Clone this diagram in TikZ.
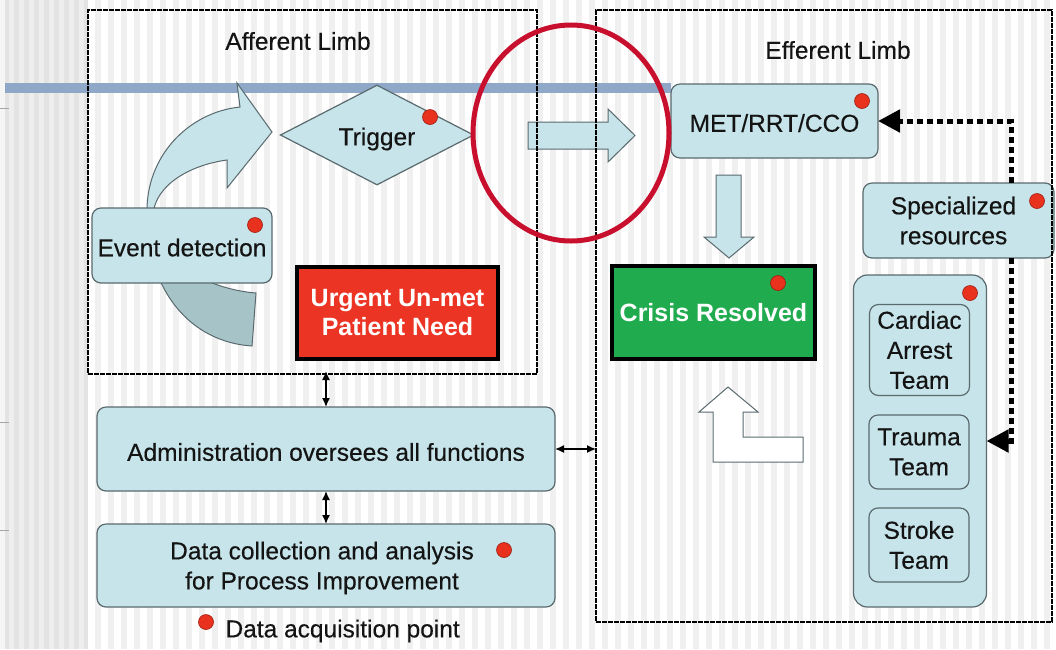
\documentclass[tikz,border=0pt]{standalone}
\usepackage{fontspec}
\setmainfont{Liberation Sans}
\newfontfamily\slidefont{Liberation Sans}[FakeBold=0.35]
\usetikzlibrary{arrows.meta,shapes.geometric}

\definecolor{boxblue}{HTML}{C6E4E9}
\definecolor{boxline}{HTML}{5A6A6E}
\definecolor{arcdark}{HTML}{A6C3C8}
\definecolor{dotred}{HTML}{E8321E}
\definecolor{dotrim}{HTML}{A01A10}
\definecolor{needred}{HTML}{EC3424}
\definecolor{okgreen}{HTML}{20AB4E}
\definecolor{ringred}{HTML}{C8102E}
\definecolor{bandblue}{HTML}{8FA8C8}
\definecolor{stripegray}{HTML}{F0F0F0}
\definecolor{sidegray}{HTML}{E3E3E3}
\definecolor{sidelight}{HTML}{EEEEEE}
\definecolor{inktext}{HTML}{141414}

% lower a label without changing the box size seen by the node
\newcommand{\lowered}[2]{\raisebox{-#1}[\height][\depth]{#2}}

\tikzset{
  txt/.style={font=\slidefont\fontsize{24.5}{30}\selectfont, text=inktext, align=center},
  pbox/.style={txt, draw=boxline, fill=boxblue, line width=1.2pt,
               rounded corners=9pt, inner sep=0pt, outer sep=0pt},
  statebox/.style={font=\bfseries\fontsize{25}{29}\selectfont, text=white,
               align=center, draw=black, line width=4pt, inner sep=0pt, outer sep=0pt},
  limbframe/.style={draw=black, line width=2.2pt, dash pattern=on 5pt off 1pt,
               inner sep=0pt, outer sep=0pt},
  blockarrow/.style={fill=boxblue, draw=boxline, line width=1pt, line join=miter},
  apoint/.style={circle, fill=dotred, draw=dotrim, line width=0.6pt,
               minimum size=15pt, inner sep=0pt},
  resconn/.style={line width=5pt, dash pattern=on 6pt off 4pt,
               -{Triangle[length=22pt,width=22pt]}},
  twoway/.style={line width=1.4pt,
               {Latex[length=9pt,width=8pt]}-{Latex[length=9pt,width=8pt]}},
}

\begin{document}
\begin{tikzpicture}[x=1pt,y=-1pt]
\useasboundingbox (0,0) rectangle (1056,649);

% striped slide background
\fill[stripegray] (0,0) rectangle (1056,649);
\foreach \x in {88,101,...,1056} \fill[white] (\x,0) rectangle ++(6.5,649);
\fill[sidegray] (5,0) rectangle (88,649);
\foreach \x in {9,19,...,85} \fill[sidelight] (\x,0) rectangle ++(5,649);
\fill[white!96!black] (0,0) rectangle (5,649);
\foreach \y in {108,422,530} \draw[gray!70, line width=1pt] (0,\y) -- (9,\y);

% horizontal title band
\fill[bandblue] (5,83) rectangle (671,93);

% curved arrow leading from event detection to the trigger
\filldraw[fill=boxblue, draw=boxline, line width=1pt, line join=miter]
  (147,215) .. controls (145,155) and (190,112) .. (240,107)
  -- (237,83) -- (272,132) -- (227,188) -- (227,160)
  .. controls (190,165) and (155,185) .. (153,215) -- cycle;
\filldraw[fill=arcdark, draw=boxline, line width=1pt, line join=miter]
  (147,215) .. controls (147,290) and (190,342) .. (252,346)
  -- (256,293) .. controls (215,290) and (153,265) .. (153,215) -- cycle;

% afferent side
\node[pbox, minimum width=180pt, minimum height=75pt] (event) at (182,245.5) {\lowered{2pt}{Event detection}};
\node[pbox, diamond, rounded corners=0pt, minimum width=193pt, minimum height=99pt] (trigger) at (377,135) {\lowered{4pt}{Trigger}};
\node[statebox, fill=needred, minimum width=201pt, minimum height=92pt] (need) at (397.5,313) {Urgent Un-met\\Patient Need};

% hand-over arrow between the limbs
\filldraw[blockarrow] (528,122) -- (608,122) -- (608,109) -- (635,135.5)
  -- (608,162) -- (608,149) -- (528,149) -- cycle;

% efferent side
\node[pbox, minimum width=207pt, minimum height=74pt] (met) at (774.5,121) {\lowered{2pt}{MET/RRT/CCO}};
\filldraw[blockarrow] (716,175) -- (741,175) -- (741,237) -- (754,237)
  -- (729,258) -- (704,237) -- (716,237) -- cycle;
\node[statebox, fill=okgreen, minimum width=203pt, minimum height=93pt] (crisis) at (713.5,312.5) {Crisis Resolved};
\filldraw[fill=white, draw=boxline, line width=1pt, line join=miter]
  (728,387) -- (758,412) -- (743,412) -- (743,437) -- (803,437)
  -- (803,462) -- (713,462) -- (713,412) -- (699,412) -- cycle;

\node[pbox, minimum width=191pt, minimum height=75pt] (spec) at (958.5,220.5) {\hspace*{-10pt}Specialized\\\hspace*{-10pt}resources};
\node[pbox, rounded corners=14pt, minimum width=133pt, minimum height=332pt] (teams) at (920,441) {};
\node[pbox, minimum width=100pt, minimum height=91pt] (cardiac) at (919.5,350) {Cardiac\\Arrest\\Team};
\node[pbox, minimum width=100pt, minimum height=74pt] (trauma) at (919,452) {Trauma\\Team};
\node[pbox, minimum width=100pt, minimum height=74pt] (stroke) at (919,545) {Stroke\\Team};

% governance boxes
\node[pbox, minimum width=458pt, minimum height=84pt] (admin) at (326,449) {\lowered{3pt}{Administration oversees all functions}};
\node[pbox, minimum width=458pt, minimum height=83pt] (data) at (326,565.5) {};
\node[txt] (datatext) at (322,568) {Data collection and analysis\\for Process Improvement};

% limb frames and headings
\node[limbframe, minimum width=449pt, minimum height=364pt] (aff) at (312.5,192) {};
\node[limbframe, minimum width=456pt, minimum height=612pt] (eff) at (824,316) {};
\node[txt] (afflabel) at (298,41) {Afferent Limb};
\node[txt] (efflabel) at (838,50) {Efferent Limb};

% connectors
\coordinate (jx) at (1011,0);
\draw[resconn] (spec.north -| jx) |- (met.east);
\draw[resconn] (spec.south -| jx) |- (teams.east);
\draw[twoway] ([yshift=3pt]aff.south -| admin.north) -- (admin.north);
\draw[twoway] (admin.south) -- (data.north);
\draw[twoway] (admin.east) -- (admin.east -| eff.west);

% data acquisition points
\node[apoint] (d1) at (255,225) {};
\node[apoint] (d2) at (430,117) {};
\node[apoint] (d3) at (862,101) {};
\node[apoint] (d4) at (778,283) {};
\node[apoint] (d5) at (1037,201) {};
\node[apoint] (d6) at (970,293) {};
\node[apoint] (d7) at (504,550) {};

% legend
\node[apoint] (legdot) at (206,622) {};
\node[txt, anchor=west] (legtext) at (222,631) {Data acquisition point};

% highlight ring
\draw[ringred, line width=5pt] (571,133) ellipse [x radius=98, y radius=108];
\end{tikzpicture}
\end{document}
